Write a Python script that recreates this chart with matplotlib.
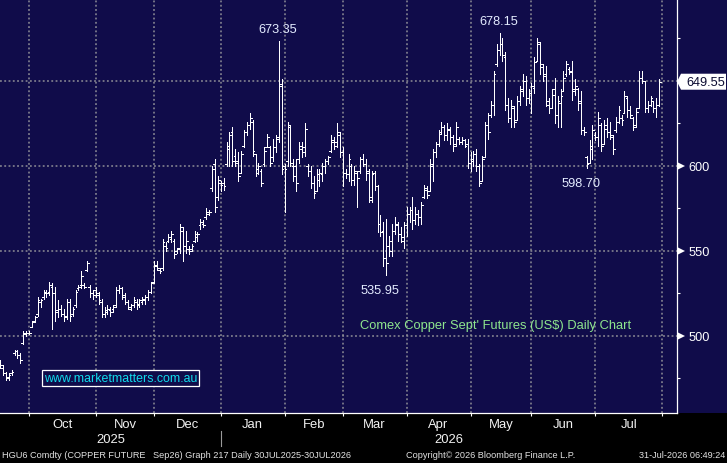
"""Comex copper Sept futures daily OHLC chart, Bloomberg style."""
import matplotlib
matplotlib.use('Agg')
import matplotlib.pyplot as plt
from matplotlib.patches import Polygon, Rectangle
from matplotlib.transforms import IdentityTransform
import numpy as np
import pandas as pd

plt.rcParams['font.family'] = ['Liberation Sans', 'DejaVu Sans']

# daily bars, first visible session 17 Sep 2025
start_date = '2025-09-17'
opens = [
    484, 481, 478, 476, 478, 490, 491, 489, 496, 501,
    502, 505, 509, 513, 520, 523, 525, 526, 529, 525,
    514, 516, 513, 512, 520, 513, 518, 528, 530, 530,
    539, 529, 525, 527, 524, 520, 513, 514, 515, 516,
    518, 527, 528, 523, 520, 516, 518, 520, 519, 520,
    521, 523, 526, 532, 541, 539, 540, 553, 556, 557,
    556, 550, 552, 562, 553, 551, 551, 556, 558, 565,
    566, 570, 572, 587, 601, 582, 590, 590, 601, 610,
    620, 606, 603, 596, 612, 620, 624, 626, 607, 598,
    597, 601, 611, 611, 605, 611, 617, 648, 600, 603,
    623, 600, 600, 604, 610, 608, 600, 597, 590, 585,
    592, 595, 600, 603, 609, 614, 614, 618, 608, 596,
    595, 600, 592, 596, 597, 604, 601, 597, 582, 596,
    588, 566, 562, 546, 553, 550, 562, 565, 560, 556,
    565, 572, 574, 568, 572, 570, 582, 586, 585, 600,
    608, 613, 620, 623, 618, 621, 617, 613, 616, 614,
    615, 613, 602, 603, 607, 600, 591, 605, 624, 630,
    636, 660, 668, 672, 664, 636, 628, 634, 627, 638,
    645, 650, 640, 643, 646, 662, 672, 658, 654, 636,
    634, 645, 630, 637, 644, 654, 657, 656, 645, 645,
    638, 621, 605, 602, 610, 618, 617, 624, 613, 622,
    620, 617, 621, 626, 628, 631, 640, 633, 628, 624,
    634, 652, 650, 634, 636, 638, 634, 636,
]
highs = [
    486, 483, 479, 478, 480, 492, 492, 490, 503, 503,
    503, 509, 512, 523, 522, 527, 527, 532, 531, 529,
    521, 518, 516, 522, 522, 517, 527, 530, 538, 531,
    544, 530, 527, 529, 526, 522, 517, 518, 517, 518,
    529, 530, 529, 525, 521, 519, 523, 522, 522, 523,
    524, 527, 532, 544, 544, 540, 557, 555, 560, 562,
    557, 552, 566, 564, 562, 553, 554, 562, 561, 569,
    568, 575, 574, 600, 604, 594, 591, 593, 614, 620,
    623, 610, 608, 609, 621, 626, 631, 627, 607, 602,
    598, 611, 619, 612, 616, 618, 673.35, 651, 601, 626,
    624, 604, 604, 614, 614, 625, 601, 600, 594, 598,
    598, 602, 604, 606, 618, 617, 625, 620, 611, 598,
    607, 601, 600, 597, 605, 607, 604, 598, 597, 597,
    589, 571, 567, 569, 559, 566, 570, 567, 564, 567,
    576, 576, 582, 576, 574, 579, 589, 588, 604, 610,
    614, 621, 626, 624, 625, 623, 618, 626, 617, 617,
    616, 616, 608, 609, 610, 601, 606, 626, 631, 638,
    656, 672, 678.15, 675, 667, 640, 639, 635, 641, 647,
    654, 653, 645, 649, 664, 675, 673, 660, 659, 640,
    645, 652, 641, 645, 656, 662, 658, 662, 651, 646,
    644, 623, 606, 615, 624, 620, 632, 625, 627, 628,
    626, 618, 629, 635, 630, 644, 641, 635, 629, 634,
    656, 656, 650, 638, 641, 638, 640, 651,
]
lows = [
    481, 477, 474, 474, 477, 489, 487, 484, 495, 500,
    501, 505, 508, 512, 517, 522, 523, 524, 504, 509,
    511, 512, 509, 510, 509, 512, 517, 527, 528, 528,
    538, 523, 522, 523, 519, 511, 511, 513, 512, 514,
    517, 525, 522, 519, 516, 515, 517, 516, 517, 519,
    519, 521, 525, 531, 539, 537, 539, 550, 555, 555,
    546, 549, 549, 544, 549, 548, 550, 555, 556, 563,
    564, 569, 571, 585, 573, 580, 585, 586, 600, 600,
    600, 600, 591, 596, 611, 618, 622, 606, 594, 595,
    588, 600, 611, 600, 603, 608, 614, 595, 573, 600,
    600, 591, 585, 602, 605, 606, 594, 587, 581, 585,
    588, 591, 596, 601, 608, 610, 611, 605, 588, 593,
    591, 589, 589, 576, 596, 600, 592, 579, 579, 586,
    561, 559, 541, 535.95, 547, 547, 560, 556, 555, 552,
    559, 567, 563, 566, 565, 566, 581, 581, 585, 591,
    605, 612, 619, 615, 615, 613, 609, 612, 613, 613,
    611, 599, 597, 600, 597, 588, 591, 605, 616, 629,
    630, 659, 665, 662, 633, 626, 623, 623, 627, 636,
    641, 636, 637, 631, 643, 662, 654, 650, 635, 631,
    634, 625, 623, 623, 644, 653, 654, 639, 642, 633,
    619, 618, 598.70, 602, 604, 615, 612, 609, 613, 617,
    616, 607, 620, 625, 624, 631, 629, 628, 621, 623,
    634, 649, 632, 632, 635, 632, 629, 635,
]
closes = [
    483, 478, 475, 477, 479, 491, 489, 486, 502, 502,
    502, 508, 511, 521, 521, 526, 525, 530, 525, 515,
    516, 513, 511, 520, 512, 516, 526, 529, 535, 529,
    543, 525, 524, 525, 521, 513, 515, 516, 514, 517,
    527, 528, 524, 520, 517, 518, 521, 518, 521, 522,
    523, 526, 531, 542, 540, 538, 555, 552, 558, 560,
    548, 551, 564, 553, 556, 550, 553, 560, 560, 567,
    565, 573, 573, 598, 576, 592, 589, 588, 612, 618,
    603, 602, 594, 607, 620, 624, 628, 609, 596, 600,
    590, 609, 617, 602, 611, 616, 647, 598, 598, 624,
    602, 594, 590, 612, 611, 622, 597, 590, 584, 595,
    596, 600, 603, 605, 615, 612, 620, 608, 596, 595,
    604, 592, 597, 593, 604, 601, 596, 580, 595, 588,
    566, 561, 546, 543, 556, 562, 566, 560, 558, 565,
    572, 574, 568, 572, 570, 577, 587, 583, 601, 608,
    613, 619, 623, 618, 622, 617, 612, 623, 614, 615,
    612, 602, 604, 607, 600, 590, 604, 624, 620, 636,
    654, 668, 672, 665, 636, 628, 635, 626, 638, 644,
    650, 640, 643, 647, 661, 673, 660, 653, 638, 634,
    642, 630, 638, 641, 652, 660, 655, 644, 647, 637,
    621, 620, 601, 612, 621, 617, 628, 612, 624, 620,
    618, 610, 626, 633, 627, 641, 633, 630, 623, 632,
    652, 650, 634, 636, 640, 634, 636, 649.55,
]

month_names = ['Oct', 'Nov', 'Dec', 'Jan', 'Feb', 'Mar', 'Apr', 'May',
               'Jun', 'Jul']
year_labels = ['2025', '2026']
label_highs = [673.35, 678.15]
label_lows = [598.70, 535.95]
y_major = [500, 550, 600]
y_grid = [500, 550, 600, 650]
y_minor = [475, 525, 575, 625, 675]

title = "Comex Copper Sept' Futures (US$) Daily Chart"
site = 'www.marketmatters.com.au'
footer_left = 'HGU6 Comdty (COPPER FUTURE'
footer_mid = 'Sep26) Graph 217 Daily 30JUL2025-30JUL2026'
footer_copy = 'Copyright\u00a9 2026 Bloomberg Finance L.P.'
footer_time = '31-Jul-2026 06:49:24'

navy = '#100C4A'
grid_color = '#8E8E96'
label_color = '#E4ECFF'

W, H = 727, 464
AX_W, AX_H = 677, 413.5

fig = plt.figure(figsize=(W / 100, H / 100), dpi=100, facecolor='black')
ax = fig.add_axes([0, 1 - AX_H / H, AX_W / W, AX_H / H])
ax.set_facecolor(navy)
# navy strip behind the price scale on the right
fig.add_artist(Rectangle((AX_W / W, 1 - AX_H / H), 1 - AX_W / W, AX_H / H,
                         transform=fig.transFigure, facecolor=navy,
                         edgecolor='none', zorder=-1))

n = len(closes)
x = np.arange(n)
axis_dates = pd.bdate_range(start_date, '2026-08-07')
months = axis_dates.to_period('M')
bounds = [i for i in range(1, len(axis_dates)) if months[i] != months[i - 1]]

ax.set_xlim(0.0, 233.1)
ax.set_ylim(455.0, 698.2)

# grid
dots = (0, (1.2, 1.6))
for b in bounds:
    ax.axvline(b, color=grid_color, lw=1.1, ls=dots, zorder=1)
for g in y_grid:
    ax.axhline(g, color=grid_color, lw=1.1, ls=dots, zorder=1)

# OHLC bars
tick = 0.6
bar_lw = 0.7
ax.vlines(x, lows, highs, colors='white', lw=bar_lw, zorder=3,
          antialiased=False)
ax.hlines(opens, x - tick, x, colors='white', lw=bar_lw, zorder=3,
          antialiased=False)
ax.hlines(closes, x, x + tick, colors='white', lw=bar_lw, zorder=3,
          antialiased=False)

# spines
for side in ['top', 'left']:
    ax.spines[side].set_visible(False)
for side in ['right', 'bottom']:
    ax.spines[side].set_color('white')
    ax.spines[side].set_linewidth(0.9)

# x axis: ticks at month starts, names centred in each month
ax.set_xticks(bounds)
ax.set_xticklabels([''] * len(bounds))
ax.tick_params(axis='x', which='major', direction='out', length=2.5,
               width=0.8, color='white')
centers = [(bounds[i] + bounds[i + 1]) / 2 for i in range(len(month_names))]
ax.set_xticks(centers, minor=True)
ax.set_xticklabels(month_names, minor=True)
ax.tick_params(axis='x', which='minor', length=0, pad=4, labelsize=9.4,
               labelcolor='#F2F2F2')

jan = bounds[3]
year_y = (AX_H - 440) / AX_H
ax.text((0.0 + jan) / 2, year_y, year_labels[0],
        transform=ax.get_xaxis_transform(), ha='center', va='center',
        fontsize=9.4, color='#F2F2F2')
ax.text((jan + 233.1) / 2, year_y, year_labels[1],
        transform=ax.get_xaxis_transform(), ha='center', va='center',
        fontsize=9.4, color='#F2F2F2')
ax.plot([jan, jan], [(AX_H - 432) / AX_H, (AX_H - 447) / AX_H],
        transform=ax.get_xaxis_transform(), color='#9A9A9A', lw=0.8,
        clip_on=False)

# y axis on the right
ax.yaxis.tick_right()
ax.set_yticks(y_major)
ax.set_yticklabels([str(v) for v in y_major])
ax.tick_params(axis='y', which='major', length=0, pad=8, labelsize=9.2,
               labelcolor='white')
ax.set_yticks(y_minor, minor=True)
ax.tick_params(axis='y', which='minor', direction='out', length=2.5,
               width=0.8, color='white')
ax.plot([1 + 4.0 / AX_W] * len(y_major), y_major, ls='none', marker='>',
        ms=6, mew=0, color='white', transform=ax.get_yaxis_transform(),
        clip_on=False, zorder=4)

# high / low call-outs
for v in label_highs:
    i = highs.index(v)
    ax.annotate('{:.2f}'.format(v), xy=(i, v), xytext=(-1, 12),
                textcoords='offset pixels', ha='center', va='center',
                fontsize=9.2, color=label_color)
for v in label_lows:
    i = lows.index(v)
    ax.annotate('{:.2f}'.format(v), xy=(i, v), xytext=(-6, -15),
                textcoords='offset pixels', ha='center', va='center',
                fontsize=9.2, color=label_color)

# chart title and site watermark
ax.text(360 / AX_W, (AX_H - 326) / AX_H, title, transform=ax.transAxes,
        ha='left', va='center', fontsize=9.3, color='#8EE68E')
ax.text(44 / AX_W, (AX_H - 379) / AX_H, site, transform=ax.transAxes,
        ha='left', va='center', fontsize=8.9, color='#10DCEC',
        bbox=dict(boxstyle='square,pad=0.15', facecolor=navy,
                  edgecolor='white', linewidth=0.9))

# last price flag
yp = ax.transData.transform((0, closes[-1]))[1]
flag = Polygon([(AX_W, yp), (AX_W + 4, yp + 8), (W - 1, yp + 8),
                (W - 1, yp - 8), (AX_W + 4, yp - 8)], closed=True,
               transform=IdentityTransform(), facecolor='white',
               edgecolor='none', zorder=5)
fig.add_artist(flag)
fig.text(686 / W, yp / H, '{:.2f}'.format(closes[-1]), ha='left',
         va='center', fontsize=9.2, color='#0A0A30', zorder=6)

# footer
fy = (H - 456) / H
fsize = 6.6
fig.text(2 / W, fy, footer_left, ha='left', va='center', fontsize=fsize,
         color='#E2E2E2')
fig.text(153 / W, fy, footer_mid, ha='left', va='center', fontsize=fsize,
         color='#E2E2E2')
fig.text(406 / W, fy, footer_copy, ha='left', va='center', fontsize=fsize,
         color='#E2E2E2')
fig.text(725 / W, fy, footer_time, ha='right', va='center', fontsize=fsize,
         color='#E2E2E2')

fig.savefig('out.png', dpi=100, facecolor='black')
